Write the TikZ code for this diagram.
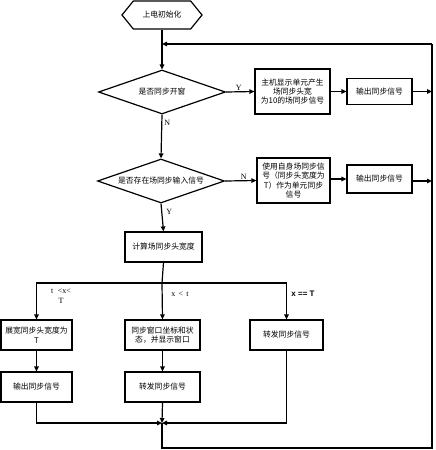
\documentclass[tikz,border=0pt]{standalone}
\usepackage{fontspec}
\setmainfont{Liberation Serif}
\newfontfamily\cjk{Noto Sans CJK SC}
\newfontfamily\arialb{Liberation Sans}
\usetikzlibrary{shapes.geometric,shapes.symbols,arrows.meta}
\begin{document}
\begin{tikzpicture}[x=1pt,y=-1pt,
  line width=1.2pt,
  arr/.style={-{Triangle[length=5pt,width=4.5pt]}},
  txt/.style={font=\cjk\fontsize{7.8pt}{9.4pt}\selectfont, align=center, inner sep=0pt},
  box/.style={txt, draw, rectangle, minimum width=#1},
  dia/.style={txt, draw, diamond, aspect=2.9, minimum width=127pt, minimum height=44pt},
  lab/.style={font=\fontsize{8pt}{9.5pt}\selectfont, inner sep=0pt, align=center}
]
\useasboundingbox (0,0) rectangle (436,450);
\node[txt, draw, signal, signal to=west and east, signal pointer angle=102,
      minimum width=80pt, minimum height=28pt] (hex) at (162,15) {上电初始化};
\node[dia] (d1) at (162,92) {是否同步开窗};
\node[box=75pt, minimum height=45pt] (b1) at (292.5,91.5) {主机显示单元产生\\场同步头宽\\为10的场同步信号};
\node[box=65pt, minimum height=26pt] (o1) at (379.5,91.5) {输出同步信号};
\node[dia] (d2) at (161,181) {是否存在场同步输入信号};
\node[box=73pt, minimum height=45pt] (b2) at (293.5,180.5) {使用自身场同步信\\号（同步头宽度为\\T）作为单元同步\\信号};
\node[box=65pt, minimum height=28pt] (o2) at (379.5,179) {输出同步信号};
\node[box=77pt, minimum height=30pt] (calc) at (163.5,247) {计算场同步头宽度};
\node[box=71pt, minimum height=30pt] (L1) at (36.5,335) {展宽同步头宽度为\\T};
\node[box=75pt, minimum height=30pt] (M1) at (162.5,335) {同步窗口坐标和状\\态，并显示窗口};
\node[box=73pt, minimum height=30pt] (R1) at (286.5,335) {转发同步信号};
\node[box=71pt, minimum height=30pt] (L2) at (36.5,387) {输出同步信号};
\node[box=75pt, minimum height=30pt] (M2) at (162.5,387) {转发同步信号};
\coordinate (top) at (162,44);
\coordinate (rtop) at (432,44);
\coordinate (br) at (162,283);
\coordinate (J) at (162,423);
\coordinate (bot) at (162,448);
\coordinate (rbot) at (432,448);
% main flow
\draw[arr] (hex.south) -- (d1.north);
\draw[arr] (d1.east) -- node[lab, above, pos=0.45, yshift=1pt] {Y} (b1.west);
\draw[arr] (b1.east |- o1.west) -- (o1.west);
\draw[arr] (o1.east) -- (o1.east -| rtop);
\draw[arr] (d1.south) -- node[lab, right, pos=0.2, xshift=2pt] {N} (d2.north);
\draw[arr] (d2.east) -- node[lab, above, pos=0.6, yshift=1pt] {N} (b2.west);
\draw[arr] (b2.east |- o2.west) -- (o2.west);
\draw[arr] (o2.east |- d2.east) -- (d2.east -| rtop);
\draw[arr] (d2.south) -- node[lab, right, pos=0.3, xshift=4pt] {Y} (calc.north);
% branches
\draw (calc.south) -- (br);
\draw[arr] (br) -| (L1.north);
\draw[arr] (br) -| (R1.north);
\draw[arr] (br) -- (M1.north);
\node[lab] (lab1) at (61,296) {t \,\,<x<\\T};
\node[lab] (lab2) at (180,294) {x \,<\, t};
\node[lab, font=\arialb\bfseries\fontsize{8pt}{9.5pt}\selectfont] (lab3) at (303,294) {x == T};
\draw[arr] (L1.south) -- (L2.north);
\draw[arr] (M1.south) -- (M2.north);
% merge
\draw[arr] (L2.south) |- (J);
\draw[arr] (M2.south) -- (J);
\draw[arr] (R1.south) |- (J);
\draw (J) -- (bot) -- (rbot) -- (rtop);
\draw[arr] (rtop) -- (top);
\end{tikzpicture}
\end{document}
